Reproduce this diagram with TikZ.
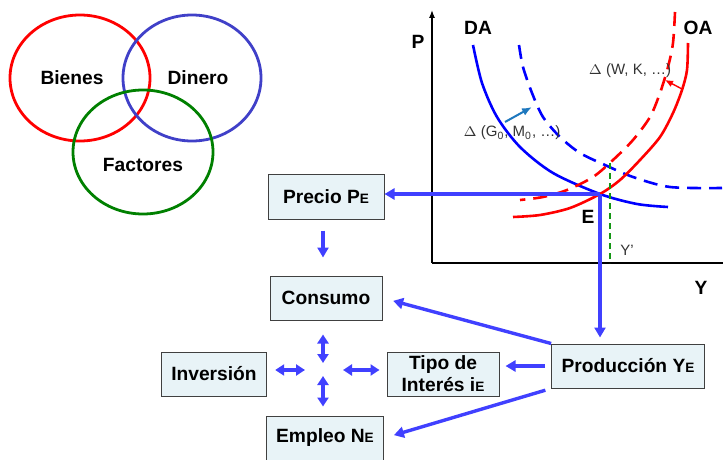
\documentclass[tikz,border=0pt]{standalone}
\usepackage{fontspec}
\setmainfont{Liberation Sans}
\usetikzlibrary{arrows.meta}

\definecolor{boxfill}{RGB}{232,243,247}
\definecolor{arrblue}{RGB}{64,64,255}
\definecolor{vennblue}{RGB}{64,64,200}
\definecolor{shiftblue}{RGB}{30,120,190}
\definecolor{ygreen}{RGB}{20,150,20}

\newcommand{\subE}{{\fontsize{6.8}{7}\selectfont E}}

\tikzset{
  box/.style = {
    rectangle, draw=black!75, line width=0.5pt, fill=boxfill,
    minimum height=22pt, inner xsep=5pt, align=center,
    font=\fontsize{9.6}{11}\selectfont\bfseries
  },
  lbl/.style = {font=\fontsize{9.6}{11}\selectfont\bfseries},
  note/.style = {font=\fontsize{7.5}{9}\selectfont, text=black!80},
  arr/.style = {-{Triangle[length=5pt,width=5.5pt]}, line width=1.7pt, arrblue},
  dblarr/.style = {{Triangle[length=4.5pt,width=5.5pt]}-{Triangle[length=4.5pt,width=5.5pt]},
    line width=1.6pt, arrblue},
  curve/.style = {line width=1.3pt},
  dcurve/.style = {line width=1.3pt, dash pattern=on 7pt off 4pt}
}

\begin{document}
\begin{tikzpicture}[x=0.5pt, y=-0.5pt]
\useasboundingbox (0,0) rectangle (723,460);

%% Venn: three markets
\draw[red, line width=1.4pt] (80,78) ellipse [x radius=70, y radius=63];
\draw[vennblue, line width=1.4pt] (192,78) ellipse [x radius=69, y radius=63];
\draw[green!50!black, line width=1.4pt] (143,152) ellipse [x radius=70, y radius=62];
\node[lbl] (bienes) at (72,78) {Bienes};
\node[lbl] (dinero) at (198,78) {Dinero};
\node[lbl] (factores) at (143,165) {Factores};

%% DA-OA graph
\coordinate (orig) at (432,263);
\draw[-{Latex[length=4pt,width=3pt]}, line width=0.6pt] (orig) -- (432,10);
\draw[line width=0.6pt] (orig) -- (723,263);
\node[lbl] (plbl) at (418,42) {P};
\node[lbl] (ylbl) at (701,288) {Y};
\node[lbl] (dalbl) at (478,28) {DA};
\node[lbl] (oalbl) at (698,28) {OA};

\draw[curve, blue] plot[smooth] coordinates {(473,45) (482,83) (497,117) (520,147)
  (553,173) (600,194) (637,204) (668,207)};
\draw[dcurve, blue] plot[smooth] coordinates {(519,45) (523,67) (532,93) (543,117)
  (560,137) (580,153) (605,165) (633,177) (670,187) (722,188)};
\draw[curve, red] plot[smooth] coordinates {(688,43) (687,70) (682,90) (673,113)
  (660,137) (640,160) (620,180) (600,194) (570,208) (540,215) (513,217)};
\draw[dcurve, red] plot[smooth] coordinates {(675,12) (673,43) (668,67) (660,93)
  (650,117) (633,140) (613,160) (593,177) (567,190) (543,197) (520,200)};

%% shifts
\draw[-{Latex[length=4pt,width=3.5pt]}, red, line width=0.7pt] (682,89) -- (665,80);
\draw[-{Latex[length=5pt,width=4pt]}, shiftblue, line width=1pt] (505,122) -- (532,107);
\node[note] (wk) at (630,71) {$\Delta$ (W, K, \dots)};
\node[note] (gm) at (512,133) {$\Delta$ (G\textsubscript{0}, M\textsubscript{0}, \dots)};

%% equilibrium
\coordinate (eq) at (600,194);
\coordinate (eqnew) at (610,163);
\draw[ygreen, line width=0.9pt, dash pattern=on 3pt off 2pt] (eqnew) -- (eqnew |- orig);
\node[lbl] (elbl) at (588,217) {E};
\node[note] (yprime) at (627,250) {Y'};

%% boxes
\node[box, minimum width=58pt] (precio) at (326,197) {Precio P\subE};
\node[box, minimum width=56pt] (consumo) at (326,298) {Consumo};
\node[box, minimum width=52pt] (inversion) at (214,374) {Inversión};
\node[box, minimum width=53pt] (empleo) at (325,438) {Empleo N\subE};
\node[box, minimum width=56pt, inner ysep=0.5pt] (tipo) at (443,374) {Tipo de\\Interés i\subE};
\node[box, minimum width=72pt] (prod) at (628,366) {Producción Y\subE};

%% arrows
\coordinate (hub) at (323,370);
\draw[arr] (eq) -- (eq -| precio.east);
\draw[arr, shorten >=3pt] (eq) -- (eq |- prod.north);
\draw[arr, shorten <=5.5pt, shorten >=9pt] (precio.south -| hub) -- (consumo.north -| hub);
\draw[arr, shorten >=5.5pt] (prod.north west) -- (consumo.east);
\draw[arr, shorten <=3pt, shorten >=3pt] (prod.west) -- (prod.west -| tipo.east);
\draw[arr, shorten <=3pt, shorten >=5pt] (prod.south west) -- (empleo.east);

\draw[dblarr, shorten <=3.5pt, shorten >=7pt] (hub) -- (hub |- consumo.south);
\draw[dblarr, shorten <=3pt, shorten >=4.5pt] (hub) -- (hub |- empleo.north);
\draw[dblarr, shorten <=9pt, shorten >=4pt] (hub) -- (hub -| inversion.east);
\draw[dblarr, shorten <=10pt, shorten >=3.5pt] (hub) -- (hub -| tipo.west);

\end{tikzpicture}
\end{document}
